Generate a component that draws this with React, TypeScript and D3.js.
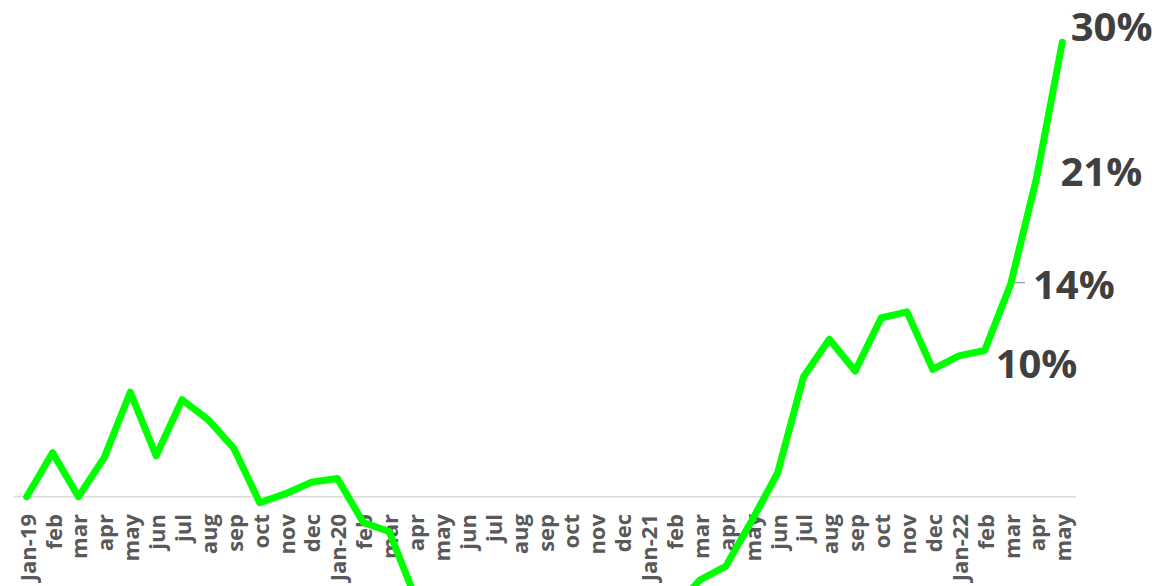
import React from "react";
import * as d3 from "d3";

const categories: string[] = [
  "Jan-19", "feb", "mar", "apr", "may", "jun", "jul", "aug", "sep", "oct", "nov", "dec",
  "Jan-20", "feb", "mar", "apr", "may", "jun", "jul", "aug", "sep", "oct", "nov", "dec",
  "Jan-21", "feb", "mar", "apr", "may", "jun", "jul", "aug", "sep", "oct", "nov", "dec",
  "Jan-22", "feb", "mar", "apr", "may",
];

const values: number[] = [
  0, 2.9, 0, 2.6, 6.9, 2.7, 6.4, 5.1, 3.2, -0.4, 0.2, 0.95,
  1.2, -1.7, -2.3, -6.6, -9, -10, -10, -11, -10, -10, -9, -9,
  -8, -7.4, -5.5, -4.6, -1.6, 1.55, 7.9, 10.4, 8.3, 11.8, 12.2, 8.4,
  9.3, 9.65, 14.0, 21.0, 30.0,
];

// indices of points carrying a data label
const labelledIdx: number[] = [37, 38, 39, 40];

const W = 1157;
const H = 586;
const FONT = "'Open Sans', sans-serif";

const labelOffsets: Record<number, [number, number]> = {
  37: [11, 27.6],
  38: [22.4, 14],
  39: [24, 7],
  40: [8.4, -1.6],
};

export default function App() {
  const x = d3.scaleLinear().domain([0, categories.length - 1]).range([26.7, 1062.3]);
  const y = d3.scaleLinear().domain([0, 30]).range([496.7, 42.3]);
  const line = d3
    .line<number>()
    .x((_, i) => x(i))
    .y((d) => y(d));
  const fmt = (v: number) => `${d3.format(".0f")(v)}%`;

  return (
    <div style={{ position: "absolute", left: 0, top: 0, width: W, height: H, overflow: "hidden", background: "#fff" }}>
      <svg width={W} height={H} style={{ display: "block" }}>
        <line x1={14} x2={1076} y1={y(0)} y2={y(0)} stroke="#d9d9d9" strokeWidth={1.6} />
        {categories.map((c, i) => (
          <text
            key={i}
            transform={`translate(${x(i) + 9},514) rotate(-90)`}
            textAnchor="end"
            fontFamily={FONT}
            fontWeight="bold"
            fontSize={22}
            fill="#595959"
          >
            {c}
          </text>
        ))}
        {/* leader line for 14% label */}
        <line x1={x(38) + 1} x2={x(38) + 14.5} y1={y(values[38]) - 2} y2={y(values[38]) - 2} stroke="#a6a6a6" strokeWidth={1.5} />
        {labelledIdx.map((i) => (
          <text
            key={i}
            x={x(i) + labelOffsets[i][0]}
            y={y(values[i]) + labelOffsets[i][1]}
            fontFamily={FONT}
            fontWeight="bold"
            fontSize={40}
            fill="#404040"
          >
            {fmt(values[i])}
          </text>
        ))}
        <path
          d={line(values) || ""}
          fill="none"
          stroke="#00ff00"
          strokeWidth={7}
          strokeLinejoin="round"
          strokeLinecap="round"
        />
      </svg>
    </div>
  );
}
